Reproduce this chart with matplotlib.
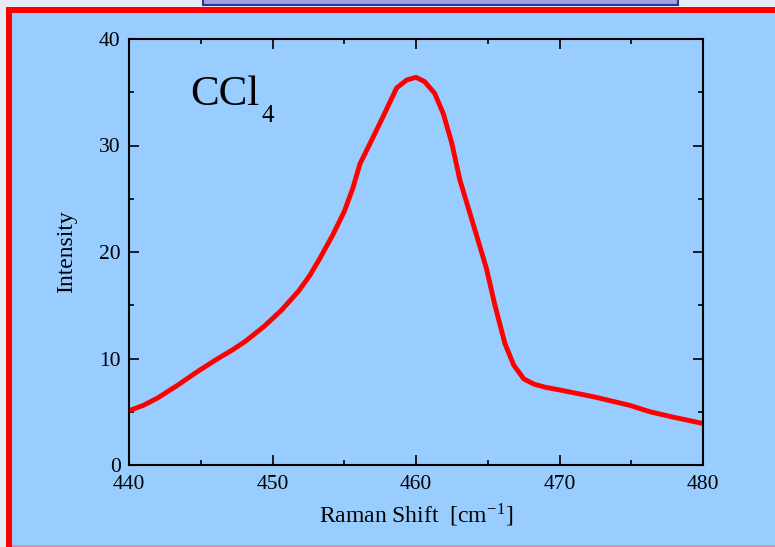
import matplotlib
matplotlib.use("Agg")
import matplotlib.pyplot as plt
from matplotlib.patches import Rectangle
from matplotlib.ticker import MultipleLocator

# Raman spectrum of CCl4
shift = [440.0, 441.0, 442.0, 443.4, 444.8, 446.2, 447.2, 448.1, 449.4, 450.6,
         451.8, 452.6, 453.3, 454.2, 455.0, 455.6, 456.1, 456.8, 457.7, 458.65,
         459.35, 460.0, 460.6, 461.3, 461.9, 462.5, 463.05, 463.9, 464.9, 465.5,
         466.2, 466.8, 467.5, 468.2, 469.0, 470.0, 472.4, 474.9, 476.3, 477.9,
         480.0]
intensity = [5.1, 5.6, 6.3, 7.5, 8.8, 10.0, 10.8, 11.6, 13.0, 14.5,
             16.3, 17.8, 19.4, 21.6, 23.8, 26.0, 28.3, 30.2, 32.7, 35.4,
             36.15, 36.4, 36.0, 34.9, 33.0, 30.2, 26.8, 23.0, 18.5, 15.0,
             11.4, 9.4, 8.1, 7.6, 7.3, 7.05, 6.4, 5.6, 5.0, 4.5,
             3.9]

x_ticks = [440, 450, 460, 470, 480]
y_ticks = [0, 10, 20, 30, 40]

plt.rcParams['font.family'] = ['Liberation Serif', 'DejaVu Serif']
plt.rcParams['mathtext.fontset'] = 'stix'

W, H = 775, 547
fig = plt.figure(figsize=(W / 100, H / 100), dpi=100)
fig.patch.set_facecolor('#e6ecf5')


def px_rect(x0, y0, x1, y1, **kw):
    # rectangle given in pixel coords (origin top-left), drawn behind the axes
    fig.patches.append(Rectangle((x0 / W, 1 - y1 / H), (x1 - x0) / W, (y1 - y0) / H,
                                 transform=fig.transFigure, figure=fig,
                                 zorder=-10, **kw))


# slide frame
px_rect(203, -5, 678, 5, facecolor='#a0a0e0', edgecolor='#333399', linewidth=1.5)
px_rect(6, 7, 780, 560, facecolor='#ff0000', edgecolor='none')
px_rect(12, 13, 780, 545, facecolor='#99ccff', edgecolor='none')
px_rect(12, 545, 780, 560, facecolor='#e88aa8', edgecolor='none')

ax = fig.add_axes([129 / W, 1 - 465 / H, (703 - 129) / W, (465 - 39) / H])
ax.set_facecolor('none')
ax.plot(shift, intensity, color='#ff0000', linewidth=3.5, solid_joinstyle='round')

ax.set_xlim(440, 480)
ax.set_ylim(0, 40)
ax.set_xticks(x_ticks)
ax.set_yticks(y_ticks)
ax.xaxis.set_minor_locator(MultipleLocator(5))
ax.yaxis.set_minor_locator(MultipleLocator(5))
ax.tick_params(which='both', direction='in', top=True, right=True,
               labelsize=15.5, width=1.2, color='black')
ax.tick_params(which='major', length=7)
ax.tick_params(which='minor', length=3.5)
ax.tick_params(axis='y', which='major', pad=6)
ax.tick_params(axis='x', which='major', pad=7.5)
for sp in ax.spines.values():
    sp.set_linewidth(1.5)

ax.set_xlabel(r'Raman Shift  [cm$^{\mathregular{-1}}$]', fontsize=17, labelpad=5)
ax.set_ylabel('Intensity', fontsize=17, labelpad=16)

ax.text(0.106, 0.845, 'CCl', transform=ax.transAxes, fontsize=31,
        ha='left', va='baseline')
ax.text(0.2317, 0.806, '4', transform=ax.transAxes, fontsize=18,
        ha='left', va='baseline')

fig.savefig('out.png', dpi=100, facecolor=fig.get_facecolor())
